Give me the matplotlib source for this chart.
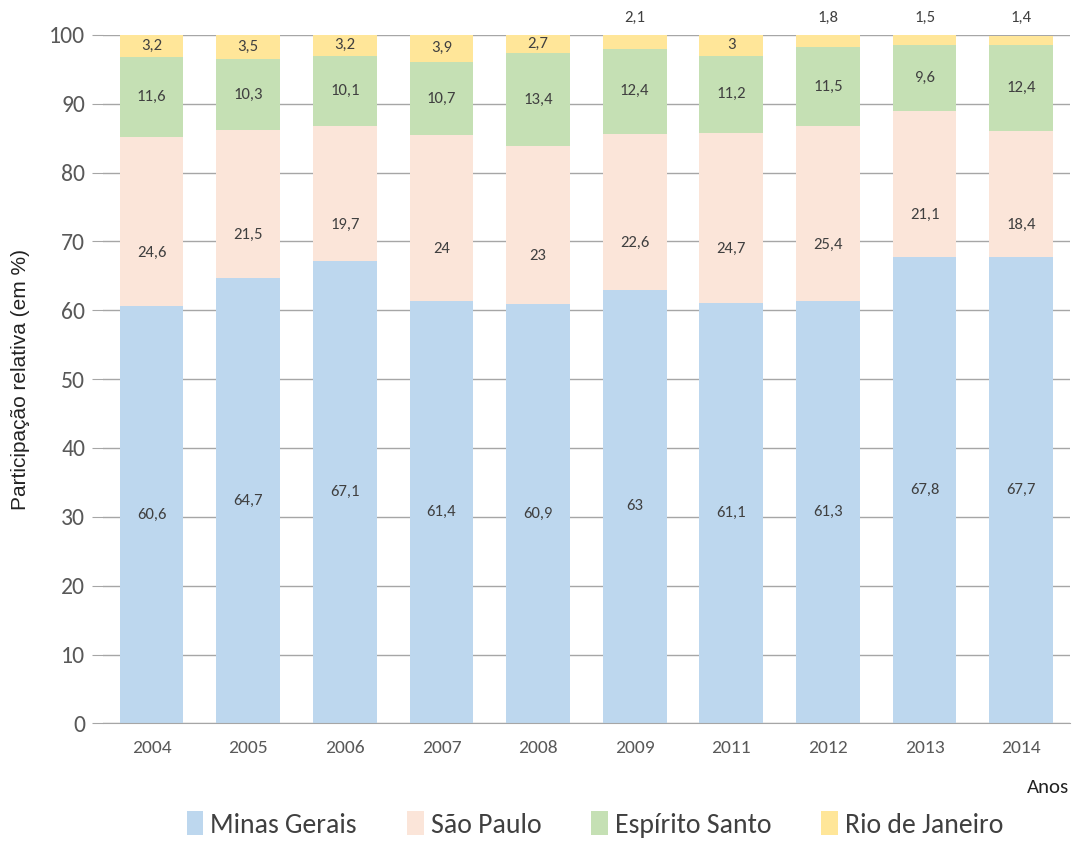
import matplotlib
matplotlib.use("Agg")
import matplotlib.pyplot as plt
import numpy as np

anos = ["2004", "2005", "2006", "2007", "2008", "2009", "2011", "2012", "2013", "2014"]
minas = [60.6, 64.7, 67.1, 61.4, 60.9, 63, 61.1, 61.3, 67.8, 67.7]
sao_paulo = [24.6, 21.5, 19.7, 24, 23, 22.6, 24.7, 25.4, 21.1, 18.4]
espirito = [11.6, 10.3, 10.1, 10.7, 13.4, 12.4, 11.2, 11.5, 9.6, 12.4]
rio = [3.2, 3.5, 3.2, 3.9, 2.7, 2.1, 3, 1.8, 1.5, 1.4]

series = [
    ("Minas Gerais", minas, "#bdd7ee"),
    ("São Paulo", sao_paulo, "#fbe5d9"),
    ("Espírito Santo", espirito, "#c5e0b4"),
    ("Rio de Janeiro", rio, "#ffe699"),
]

narrow = ["Carlito", "Liberation Sans Narrow", "DejaVu Sans"]


def fmt(v):
    return ("%g" % v).replace(".", ",")


fig = plt.figure(figsize=(10.76, 8.5), dpi=100)
ax = fig.add_axes([0.096, 0.149, 0.898, 0.81])

x = np.arange(len(anos))
bottom = np.zeros(len(anos))
for name, vals, color in series:
    vals = np.array(vals, dtype=float)
    ax.bar(x, vals, 0.66, bottom=bottom, color=color, label=name, zorder=2)
    for i, v in enumerate(vals):
        if name == "Rio de Janeiro" and v < 2.5:
            y = 102.5
        elif name == "São Paulo":
            y = bottom[i] + v / 2 - 4.5
        else:
            y = bottom[i] + v / 2
        ax.text(x[i], y, fmt(v), ha="center", va="center", fontsize=12,
                color="#404040", family=narrow, clip_on=False)
    bottom += vals

ax.set_xlim(-0.5, len(anos) - 0.5)
ax.set_ylim(0, 100)
ax.set_yticks(range(0, 101, 10))
ax.set_xticks(x)
ax.set_xticklabels(anos)
ax.yaxis.grid(True, color="#a6a6a6", linewidth=1, zorder=0)
ax.set_axisbelow(True)
for s in ["top", "right", "left"]:
    ax.spines[s].set_visible(False)
ax.spines["bottom"].set_color("#a6a6a6")
ax.tick_params(axis="x", length=0, pad=12, labelsize=14, labelcolor="#595959")
ax.tick_params(axis="y", length=8, color="#a6a6a6", pad=5, labelsize=17, labelcolor="#595959")
for lbl in ax.get_xticklabels() + ax.get_yticklabels():
    lbl.set_family(narrow)

ax.set_ylabel("Participação relativa (em %)", fontsize=15, color="#222222", labelpad=14,
              family=["Liberation Sans", "DejaVu Sans"])
fig.text(0.994, 0.074, "Anos", ha="right", va="center", fontsize=15,
         family=narrow, color="#222222")

leg = fig.legend(loc="center", bbox_to_anchor=(0.553, 0.03), ncol=4, frameon=False,
                 handlelength=0.6, handleheight=0.9, handletextpad=0.25,
                 columnspacing=1.8, prop={"family": narrow, "size": 20})
for t in leg.get_texts():
    t.set_color("#404040")

fig.savefig("out.png", dpi=100)
